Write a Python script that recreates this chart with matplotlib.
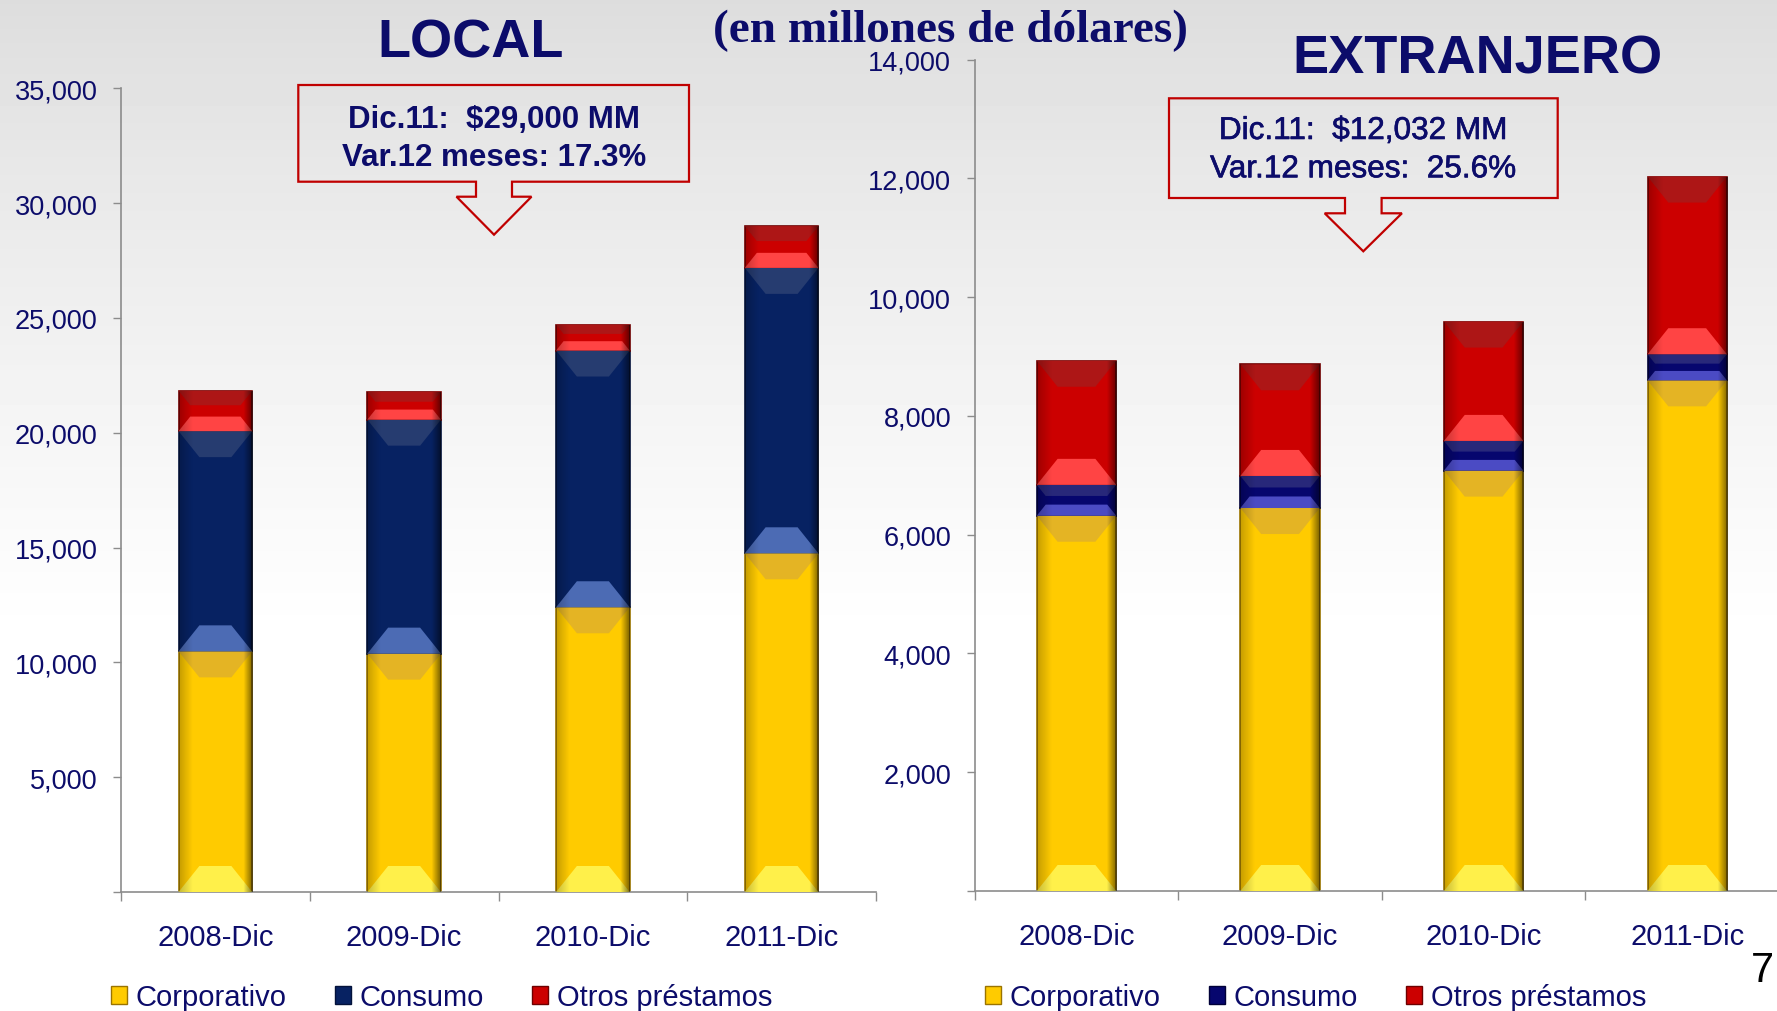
import numpy as np
import matplotlib.pyplot as plt
import matplotlib.patheffects as pe
from matplotlib.patches import Polygon, Patch
from matplotlib.ticker import FuncFormatter

plt.rcParams['font.family'] = ['Liberation Sans', 'DejaVu Sans']

# data (millones de dolares)
years = ["2008-Dic", "2009-Dic", "2010-Dic", "2011-Dic"]
series_names = ["Corporativo", "Consumo", "Otros préstamos"]

local_corp = [10480, 10380, 12400, 14750]
local_cons = [9590, 10190, 11180, 12430]
local_otros = [1760, 1220, 1130, 1820]

ext_corp = [6320, 6450, 7080, 8600]
ext_cons = [520, 540, 500, 440]
ext_otros = [2090, 1880, 2010, 2992]

local_note = ["Dic.11:  $29,000 MM", "Var.12 meses: 17.3%"]
ext_note = ["Dic.11:  $12,032 MM", "Var.12 meses:  25.6%"]

W, H = 1777, 1012
NAVY = '#0c0c6a'
GRAY = '#8c8c8c'
RED_LINE = '#c00000'

YELLOW = dict(main='#ffcb00', top='#e4b424', bot='#fff04a', edge='#9a7400')
NAVY_BAR = dict(main='#072262', top='#263c70', bot='#4c6bb4', edge='#03123a')
INDIGO_BAR = dict(main='#06066e', top='#28287a', bot='#4b4bc4', edge='#000038')
RED_BAR = dict(main='#cc0000', top='#ad1616', bot='#ff4444', edge='#6e0000')


def fx(px):
    return px / W


def fy(py):
    return 1 - py / H


fig = plt.figure(figsize=(W / 100, H / 100), dpi=100)

# grey-to-white background
bg = fig.add_axes([0, 0, 1, 1], zorder=-10)
t = np.clip(np.linspace(0, 1, H) / 0.63, 0, 1)
shade = 0.865 + 0.135 * t ** 0.85
bg.imshow(np.tile(shade[:, None], (1, 2)), cmap='gray', vmin=0, vmax=1,
          aspect='auto', extent=[0, 1, 0, 1])
bg.axis('off')

# side shading profile for the bars (dark at the edges, clear in the middle)
u = np.linspace(0, 1, 60)
side_alpha = np.where(u < 0.18, 0.22 * (1 - u / 0.18), 0.0)
side_alpha = np.maximum(side_alpha, np.where(u > 0.88, 0.5 * (u - 0.88) / 0.12, 0.0))
side_rgba = np.zeros((1, len(u), 4))
side_rgba[0, :, 3] = side_alpha


def bevel(ax, rect, style):
    x0, y0 = rect.get_x(), rect.get_y()
    w, h = rect.get_width(), rect.get_height()
    ylo, yhi = ax.get_ylim()
    per_px_y = (yhi - ylo) / ax.bbox.height
    per_px_x = 4.0 / ax.bbox.width
    h_px = h / per_px_y
    d_px = min(26, h_px * 0.36)
    d = d_px * per_px_y
    inset = min(d_px * 0.8 * per_px_x, w * 0.4)
    top = Polygon([(x0, y0 + h), (x0 + w, y0 + h), (x0 + w - inset, y0 + h - d),
                   (x0 + inset, y0 + h - d)], closed=True, color=style['top'],
                  lw=0, zorder=3)
    bot = Polygon([(x0, y0), (x0 + w, y0), (x0 + w - inset, y0 + d),
                   (x0 + inset, y0 + d)], closed=True, color=style['bot'],
                  lw=0, zorder=3)
    ax.add_patch(top)
    ax.add_patch(bot)
    im = ax.imshow(side_rgba, extent=[x0, x0 + w, y0, y0 + h], aspect='auto',
                   interpolation='bilinear', zorder=4)
    im.set_clip_path(rect)


def panel(rect, corp, cons, otros, ymax, ystep, styles, legend_x):
    ax = fig.add_axes(rect)
    ax.set_facecolor('none')
    ax.set_xlim(-0.5, 3.5)
    ax.set_ylim(0, ymax)
    x = np.arange(len(years))
    bottom = np.zeros(len(years))
    for vals, st, name in zip([corp, cons, otros], styles, series_names):
        bars = ax.bar(x, vals, bottom=bottom, width=0.39, color=st['main'],
                      edgecolor=st['edge'], linewidth=1.2, label=name, zorder=2)
        for b in bars:
            bevel(ax, b, st)
        bottom = bottom + np.array(vals)
    ax.set_xlim(-0.5, 3.5)
    ax.set_ylim(0, ymax)

    for s in ['top', 'right']:
        ax.spines[s].set_visible(False)
    for s in ['left', 'bottom']:
        ax.spines[s].set_color(GRAY)
        ax.spines[s].set_linewidth(1.2)

    ax.set_xticks(x)
    ax.set_xticklabels(years)
    ax.set_xticks(np.arange(-0.5, 4, 1), minor=True)
    ax.tick_params(axis='x', which='major', length=0, pad=22,
                   labelsize=21, labelcolor=NAVY)
    ax.tick_params(axis='x', which='minor', length=6.8, width=1, color=GRAY)
    ax.set_yticks(np.arange(0, ymax + 1, ystep))
    ax.yaxis.set_major_formatter(
        FuncFormatter(lambda v, _: '' if v == 0 else f'{v:,.0f}'))
    ax.tick_params(axis='y', length=6, width=1, color=GRAY, pad=11,
                   labelsize=19.5, labelcolor=NAVY)

    handles = [Patch(facecolor=st['main'], edgecolor=st['edge'], label=n)
               for st, n in zip(styles, series_names)]
    ax.legend(handles=handles, loc='center left',
              bbox_to_anchor=(fx(legend_x), fy(998.5)),
              bbox_transform=fig.transFigure, ncol=3, frameon=False,
              fontsize=21, handlelength=0.55, handleheight=0.55,
              handletextpad=0.3, columnspacing=1.65, borderpad=0,
              borderaxespad=0, labelcolor=NAVY)
    return ax


panel([fx(121), fy(893), fx(876) - fx(121), fy(89.3) - fy(893)],
      local_corp, local_cons, local_otros, 35000, 5000,
      [YELLOW, NAVY_BAR, RED_BAR], 111)
panel([fx(974.7), fy(892), fx(1789) - fx(974.7), fy(60.7) - fy(892)],
      ext_corp, ext_cons, ext_otros, 14000, 2000,
      [YELLOW, INDIGO_BAR, RED_BAR], 985)


def callout(left, right, top, bottom, cx, stem, stem_len, head, head_len):
    pts = [(left, top), (right, top), (right, bottom), (cx + stem, bottom),
           (cx + stem, bottom + stem_len), (cx + head, bottom + stem_len),
           (cx, bottom + stem_len + head_len), (cx - head, bottom + stem_len),
           (cx - stem, bottom + stem_len), (cx - stem, bottom), (left, bottom)]
    poly = Polygon([(fx(a), fy(b)) for a, b in pts], closed=True, fill=False,
                   edgecolor=RED_LINE, lw=1.6, joinstyle='miter',
                   transform=fig.transFigure)
    fig.add_artist(poly)


callout(298.3, 689, 86, 182.7, 494, 18, 15, 37.5, 38)
callout(1169, 1557.7, 99.3, 199, 1363.3, 18.3, 15.3, 38.6, 38)

fig.text(fx(494), fy(127.7), local_note[0], ha='center', va='baseline',
         fontsize=22.5, weight='bold', color=NAVY)
fig.text(fx(494), fy(166), local_note[1], ha='center', va='baseline',
         fontsize=22.5, weight='bold', color=NAVY)
thick = [pe.withStroke(linewidth=0.45, foreground=NAVY)]
fig.text(fx(1363.3), fy(140), ext_note[0], ha='center', va='baseline',
         fontsize=22.7, color=NAVY, path_effects=thick)
fig.text(fx(1363.3), fy(178.3), ext_note[1], ha='center', va='baseline',
         fontsize=22.7, color=NAVY, path_effects=thick)

fig.text(fx(470.5), fy(57), 'LOCAL', ha='center', va='baseline',
         fontsize=39, weight='bold', color=NAVY)
fig.text(fx(1477), fy(73), 'EXTRANJERO', ha='center', va='baseline',
         fontsize=39, weight='bold', color=NAVY)
fig.text(fx(950.7), fy(41.7), '(en millones de dólares)', ha='center',
         va='baseline', fontsize=34, weight='bold', color=NAVY,
         family='Liberation Serif')
fig.text(fx(1762), fy(981.7), '7', ha='center', va='baseline',
         fontsize=30, color='black')

fig.savefig('out.png', dpi=100)
